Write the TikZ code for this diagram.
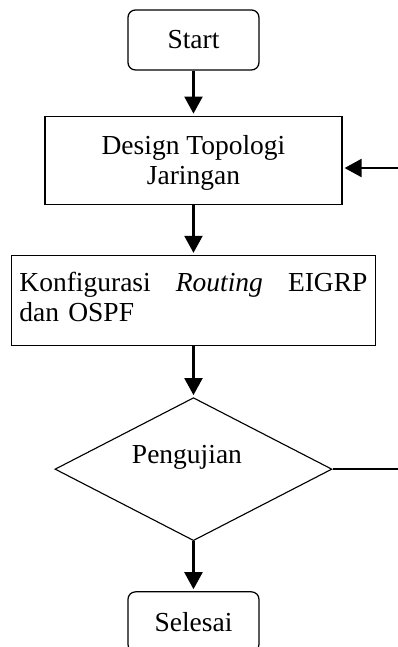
\documentclass[tikz,border=0pt]{standalone}
\usepackage{fontspec}
\setmainfont{Liberation Serif}
\usetikzlibrary{positioning,shapes.geometric,arrows.meta}
\tikzset{
	term/.style={draw, rounded corners=3pt, minimum width=52.4pt, minimum height=24pt, line width=0.5pt},
	proc/.style={draw, line width=0.5pt, inner sep=3.2pt},
	decide/.style={draw, diamond, minimum width=110.8pt, minimum height=57.2pt, inner sep=0pt, line width=0.45pt},
	arr/.style={line width=0.85pt, -{Triangle[length=6.8pt,width=7.2pt]}, shorten >=0.8pt},
}
\begin{document}
\begin{tikzpicture}[every node/.style={font=\fontsize{11}{12}\selectfont}]
		\useasboundingbox (0,0) rectangle (5.595,-9.096);
		\node (start) [term] at (2.72,-0.562) {Start};
		\node (design) [proc, below=18pt of start, minimum width=118.8pt, minimum height=35.2pt, text depth=0pt, align=center] {Design Topologi\\Jaringan};
		\draw[arr] (start) -- (design);
		
		\node (konfig) [proc, below=20pt of design, text width=139.2pt, minimum height=36pt, text depth=15pt, align=left] {Konfigurasi\hfill\textit{Routing}\hfill EIGRP\\dan OSPF};
		\draw[arr] (design) -- (konfig);
		
		\node (uji) [decide, below=20.4pt of konfig, label={[xshift=-2.6pt,yshift=4.7pt]center:Pengujian}] {};
		\draw[arr] (konfig) -- (uji);
		
		\node (selesai) [term, below=20pt of uji] {Selesai};
		\draw[arr] (uji) -- (selesai);
		
		\coordinate (ujikanan) at (5.595,0 |- uji.east);
		\draw[line width=0.6pt] (uji.east) -- (ujikanan);
		\coordinate (balik) at (5.595,-2.362);
		\draw[arr] (balik) -- (balik -| design.east);
\end{tikzpicture}
\end{document}
